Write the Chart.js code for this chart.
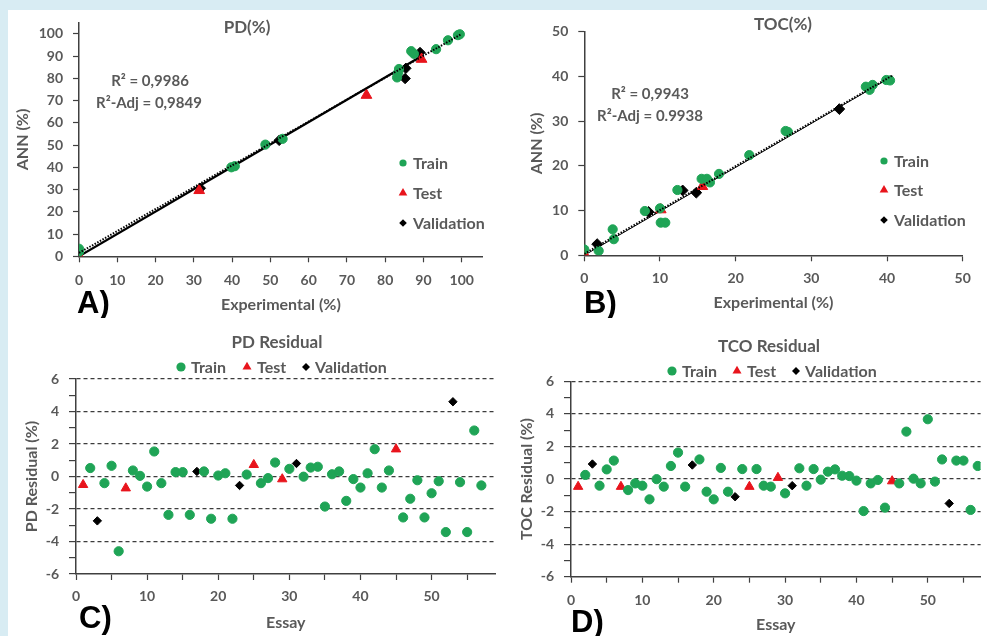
<!DOCTYPE html>
<html>
<head>
<meta charset="utf-8">
<script src="https://cdn.jsdelivr.net/npm/chart.js@4.4.1/dist/chart.umd.min.js"></script>
<style>
  html, body { margin: 0; padding: 0; }
  body { width: 987px; height: 636px; background: #d8ecf3; position: relative; overflow: hidden; }
  #sheet { position: absolute; left: 8px; top: 10px; width: 979px; height: 626px; background: #fff; }
  canvas { position: absolute; }
</style>
</head>
<body>
<div id="sheet"></div>
<canvas id="pdChart"></canvas>
<canvas id="tocChart"></canvas>
<canvas id="pdResChart"></canvas>
<canvas id="tocResChart"></canvas>
<script>
// ---- PD(%): experimental vs ANN ----
const pdTrainExp = [0, 0, 39.8, 40.7, 48.7, 53.2, 83.1, 83.4, 83.6, 86.8, 87.5, 93.3, 96.4, 99.0, 99.5];
const pdTrainAnn = [3.4, 2.0, 40.0, 40.5, 50.2, 52.8, 80.4, 82.6, 84.2, 92.2, 91.0, 93.1, 97.1, 99.4, 99.8];
const pdTestExp = [0, 31.4, 75.1, 89.5];
const pdTestAnn = [0.3, 29.6, 72.4, 88.6];
const pdValExp = [31.7, 52.3, 85.4, 85.2, 89.1];
const pdValAnn = [30.6, 52.1, 84.5, 79.9, 91.6];
const pdFitExp = [0, 89];
const pdFitAnn = [0, 89.5];
const pdTrendExp = [0, 100];
const pdTrendAnn = [1.5, 100];

// ---- TOC(%): experimental vs ANN ----
const tocTrainExp = [0, 1.9, 3.75, 3.9, 8.0, 10.0, 10.1, 10.7, 12.3, 15.5, 16.2, 16.6, 17.8, 21.8, 26.6, 26.9, 37.2, 37.7, 38.1, 39.9, 40.4];
const tocTrainAnn = [1.3, 1.0, 5.8, 3.6, 9.9, 10.5, 7.3, 7.3, 14.6, 17.1, 17.1, 16.3, 18.2, 22.4, 27.8, 27.6, 37.7, 37.0, 38.1, 39.2, 39.1];
const tocTestExp = [0, 10.1, 15.6];
const tocTestAnn = [0.3, 10.2, 15.4];
const tocValExp = [1.7, 8.5, 13.0, 14.8, 33.7];
const tocValAnn = [2.5, 9.7, 14.5, 14.0, 32.7];
const tocFitExp = [0, 40.8];
const tocFitAnn = [0, 40.1];
const tocTrendExp = [0, 40.8];
const tocTrendAnn = [0.3, 40.3];

// ---- residuals per essay ----
const trainEssay = [2, 4, 5, 6, 8, 9, 10, 11, 12, 13, 14, 15, 16, 18, 19, 20, 21, 22, 24, 26, 27, 28, 30,
  32, 33, 34, 35, 36, 37, 38, 39, 40, 41, 42, 43, 44, 46, 47, 48, 49, 50, 51, 52, 54, 55, 56, 57];
const testEssay = [1, 7, 25, 29, 45];
const validationEssay = [3, 17, 23, 31, 53];

const pdResTrain = [0.52, -0.41, 0.66, -4.6, 0.37, 0.04, -0.62, 1.54, -0.41, -2.36, 0.27, 0.27, -2.36, 0.31, -2.6,
  0.06, 0.2, -2.6, 0.12, -0.41, -0.1, 0.86, 0.47, -0.01, 0.55, 0.6, -1.85, 0.14, 0.31, -1.5, -0.16, -0.68, 0.2,
  1.68, -0.68, 0.37, -2.52, -1.37, -0.23, -2.52, -1.03, -0.29, -3.42, -0.35, -3.42, 2.83, -0.55];
const pdResTest = [-0.51, -0.72, 0.72, -0.16, 1.68];
const pdResValidation = [-2.73, 0.31, -0.55, 0.8, 4.6];

const tocResTrain = [0.25, -0.41, 0.59, 1.13, -0.68, -0.27, -0.41, -1.25, -0.01, -0.47, 0.8, 1.62, -0.47, 1.2,
  -0.78, -1.25, 0.68, -0.78, 0.61, 0.61, -0.41, -0.47, -0.88, 0.66, -0.41, 0.61, -0.04, 0.45, 0.59, 0.2, 0.18,
  -0.1, -1.97, -0.27, -0.06, -1.76, -0.27, 2.91, 0.02, -0.27, 3.67, -0.16, 1.2, 1.13, 1.13, -1.9, 0.8];
const tocResTest = [-0.47, -0.47, -0.47, 0.08, -0.13];
const tocResValidation = [0.92, 0.86, -1.09, -0.41, -1.5];

const GREEN = '#1fa456';
const RED = '#e8141c';
const BLACK = '#000000';
const TEXT = '#595959';
const AXIS = '#404040';
const FONT = 'Lato, "Open Sans", sans-serif';
const TITLE_SIZE = 16;   // axis titles
const TITLE_LH = TITLE_SIZE * 1.2;

Chart.defaults.font.family = FONT;
Chart.defaults.font.weight = 'bold';
Chart.defaults.color = TEXT;

const pts = (xs, ys) => xs.map((x, i) => ({ x, y: ys[i] }));

function markerPath(ctx, style, x, y, r) {
  ctx.beginPath();
  if (style === 'circle') {
    ctx.arc(x, y, r, 0, Math.PI * 2);
  } else if (style === 'triangle') {
    ctx.moveTo(x, y - r);
    ctx.lineTo(x + r * 0.866, y + r * 0.5);
    ctx.lineTo(x - r * 0.866, y + r * 0.5);
    ctx.closePath();
  } else {
    ctx.moveTo(x, y - r);
    ctx.lineTo(x + r, y);
    ctx.lineTo(x, y + r);
    ctx.lineTo(x - r, y);
    ctx.closePath();
  }
}

// titles, R² notes, legends and panel letters, placed in page coordinates
const overlay = {
  id: 'overlay',
  afterDraw(chart, args, o) {
    const ctx = chart.ctx;
    const [ox, oy] = o.origin;
    ctx.save();
    ctx.textBaseline = 'middle';
    ctx.fillStyle = TEXT;
    ctx.font = 'bold 17px ' + FONT;
    ctx.textAlign = 'center';
    ctx.fillText(o.title.text, o.title.x - ox, o.title.y - oy);
    ctx.font = 'bold 15px ' + FONT;
    (o.notes || []).forEach(n => ctx.fillText(n.text, n.x - ox, n.y - oy));
    ctx.textAlign = 'left';
    ctx.font = 'bold 16px ' + FONT;
    o.legend.forEach(item => {
      ctx.fillStyle = item.color;
      markerPath(ctx, item.style, item.mx - ox, item.y - oy, item.r);
      ctx.fill();
      ctx.fillStyle = TEXT;
      ctx.fillText(item.text, item.tx - ox, item.y - oy + 1);
    });
    ctx.fillStyle = '#000';
    ctx.font = 'bold 31px "Liberation Sans Narrow", "Liberation Sans", sans-serif';
    ctx.fillText(o.letter.text, o.letter.x - ox, o.letter.y - oy);
    ctx.restore();
  }
};

function legendColumn(mx, tx, ys) {
  return [
    { text: 'Train', style: 'circle', color: GREEN, r: 3.6, mx, tx, y: ys[0] },
    { text: 'Test', style: 'triangle', color: RED, r: 5, mx, tx, y: ys[1] },
    { text: 'Validation', style: 'diamond', color: BLACK, r: 3.8, mx, tx, y: ys[2] }
  ];
}

function legendRow(y, xs) {
  return [
    { text: 'Train', style: 'circle', color: GREEN, r: 4.6, mx: xs[0][0], tx: xs[0][1], y },
    { text: 'Test', style: 'triangle', color: RED, r: 5.2, mx: xs[1][0], tx: xs[1][1], y },
    { text: 'Validation', style: 'diamond', color: BLACK, r: 4, mx: xs[2][0], tx: xs[2][1], y }
  ];
}

function pointSets(train, test, val, sizes) {
  return [
    { label: 'Train', data: train, pointStyle: 'circle', pointRadius: sizes[0],
      backgroundColor: GREEN, borderColor: GREEN, order: 1 },
    { label: 'Test', data: test, pointStyle: 'triangle', pointRadius: sizes[1],
      backgroundColor: RED, borderColor: RED, order: 1 },
    { label: 'Validation', data: val, pointStyle: 'rectRot', pointRadius: sizes[2],
      backgroundColor: BLACK, borderColor: BLACK, order: 1 }
  ];
}

function axis(cfg, extra) {
  return Object.assign({
    type: 'linear',
    border: { color: AXIS, width: 1.5 },
    title: { display: true, text: cfg.text, color: TEXT, padding: 0,
      font: { size: TITLE_SIZE, weight: 'bold', lineHeight: 1.2 } }
  }, extra);
}

function makePanel(id, p) {
  const c = p.canvas, a = p.area;
  const el = document.getElementById(id);
  el.width = c.w;
  el.height = c.h;
  el.style.left = c.x + 'px';
  el.style.top = c.y + 'px';

  const padLeft = p.yTitleX - TITLE_LH / 2 - c.x;
  const yWidth = a.l - c.x - padLeft;
  const xHeight = p.xTitleY + TITLE_LH / 2 - a.b;
  const padding = {
    left: padLeft,
    top: a.t - c.y,
    right: c.x + c.w - a.r,
    bottom: c.y + c.h - a.b - xHeight
  };

  const x = axis({ text: p.x.title }, {
    min: p.x.min, max: p.x.max,
    grid: { color: 'transparent', tickColor: AXIS, tickLength: 6, tickWidth: 1.2 },
    ticks: { stepSize: p.x.step, includeBounds: false, autoSkip: false, maxRotation: 0,
      padding: p.x.pad, font: { size: 14, weight: 'bold' }, color: TEXT,
      callback: p.x.label || (v => v) },
    afterFit: s => { s.height = xHeight; s.paddingLeft = 0; s.paddingRight = 0; }
  });
  const y = axis({ text: p.y.title }, {
    min: p.y.min, max: p.y.max,
    grid: p.y.grid || { color: 'transparent', tickColor: AXIS, tickLength: 6, tickWidth: 1.2 },
    border: { color: AXIS, width: 1.5, dash: p.y.dash || [] },
    ticks: { stepSize: p.y.step, includeBounds: false, autoSkip: false,
      padding: 10, font: { size: 14, weight: 'bold' }, color: TEXT,
      callback: p.y.label || (v => v) },
    afterFit: s => { s.width = yWidth; s.paddingTop = 0; s.paddingBottom = 0; }
  });

  return new Chart(el, {
    type: 'scatter',
    data: { datasets: p.datasets },
    plugins: [overlay],
    options: {
      responsive: false,
      animation: false,
      layout: { padding },
      scales: { x, y },
      plugins: {
        legend: { display: false },
        tooltip: { enabled: false },
        overlay: Object.assign({ origin: [c.x, c.y] }, p.overlay)
      }
    }
  });
}

function fitLines(fitX, fitY, trendX, trendY, fitWidth) {
  return [
    { data: pts(fitX, fitY), showLine: true, pointRadius: 0, borderColor: BLACK,
      borderWidth: fitWidth, order: 2 },
    { data: pts(trendX, trendY), showLine: true, pointRadius: 0, borderColor: BLACK,
      borderWidth: 2, borderDash: [1.5, 1.5], order: 0 }
  ];
}

// residual y axis: minor ticks every unit, dashed grid every two
const residualGrid = {
  color: c => (c.tick && c.tick.value % 2 === 0 && c.tick.value > -6) ? '#3c3c3c' : 'transparent',
  lineWidth: 1.2,
  tickColor: AXIS, tickLength: 7, tickWidth: 1.2
};
const evenLabel = v => (v % 2 === 0 ? v : '');
const tenLabel = v => (v % 10 === 0 ? v : '');

makePanel('pdChart', {
  canvas: { x: 8, y: 10, w: 482, h: 308 },
  area: { l: 79, t: 22.7, r: 483, b: 256.3 },
  yTitleX: 23, xTitleY: 305,
  x: { title: 'Experimental (%)', min: 0, max: 105.5, step: 10, pad: 10 },
  y: { title: 'ANN (%)', min: 0, max: 105, step: 10 },
  datasets: [
    ...fitLines(pdFitExp, pdFitAnn, pdTrendExp, pdTrendAnn, 2.2),
    ...pointSets(pts(pdTrainExp, pdTrainAnn), pts(pdTestExp, pdTestAnn), pts(pdValExp, pdValAnn), [4.6, 6.2, 5.2])
  ],
  overlay: {
    title: { text: 'PD(%)', x: 247, y: 28 },
    notes: [
      { text: 'R² = 0,9986', x: 150, y: 81 },
      { text: 'R²-Adj = 0,9849', x: 149, y: 103 }
    ],
    legend: legendColumn(403, 413, [163, 193, 223]),
    letter: { text: 'A)', x: 77, y: 304 }
  }
});

makePanel('tocChart', {
  canvas: { x: 490, y: 10, w: 497, h: 308 },
  area: { l: 584.3, t: 31.7, r: 962.7, b: 255.3 },
  yTitleX: 537, xTitleY: 303,
  x: { title: 'Experimental (%)', min: 0, max: 50, step: 10, pad: 9 },
  y: { title: 'ANN (%)', min: 0, max: 50, step: 10 },
  datasets: [
    ...fitLines(tocFitExp, tocFitAnn, tocTrendExp, tocTrendAnn, 1),
    ...pointSets(pts(tocTrainExp, tocTrainAnn), pts(tocTestExp, tocTestAnn), pts(tocValExp, tocValAnn), [4.6, 6.2, 5.4])
  ],
  overlay: {
    title: { text: 'TOC(%)', x: 783, y: 25 },
    notes: [
      { text: 'R² = 0,9943', x: 650, y: 94 },
      { text: 'R²-Adj = 0.9938', x: 650, y: 116 }
    ],
    legend: legendColumn(884, 894, [161, 190, 220]),
    letter: { text: 'B)', x: 584, y: 304 }
  }
});

makePanel('pdResChart', {
  canvas: { x: 8, y: 318, w: 494, h: 318 },
  area: { l: 76, t: 379, r: 502, b: 574 },
  yTitleX: 32, xTitleY: 623,
  x: { title: 'Essay', min: 0, max: 59, step: 5, pad: 8.5, label: tenLabel },
  y: { title: 'PD Residual (%)', min: -6, max: 6, step: 1, label: evenLabel, grid: residualGrid, dash: [4, 3] },
  datasets: pointSets(pts(trainEssay, pdResTrain), pts(testEssay, pdResTest),
    pts(validationEssay, pdResValidation), [4.6, 5.4, 4.2]),
  overlay: {
    title: { text: 'PD Residual', x: 277, y: 343 },
    legend: legendRow(367, [[181, 191], [247, 257], [306, 315]]),
    letter: { text: 'C)', x: 79, y: 619 }
  }
});

makePanel('tocResChart', {
  canvas: { x: 505, y: 318, w: 482, h: 318 },
  area: { l: 571, t: 381.3, r: 987, b: 576.7 },
  yTitleX: 527, xTitleY: 625,
  x: { title: 'Essay', min: 0, max: 57.4, step: 5, pad: 9, label: tenLabel },
  y: { title: 'TOC Residual (%)', min: -6, max: 6, step: 1, label: evenLabel, grid: residualGrid, dash: [4, 3] },
  datasets: pointSets(pts(trainEssay, tocResTrain), pts(testEssay, tocResTest),
    pts(validationEssay, tocResValidation), [4.6, 5.4, 4.2]),
  overlay: {
    title: { text: 'TCO Residual', x: 769, y: 347 },
    legend: legendRow(371, [[672, 682], [737, 747], [796, 805]]),
    letter: { text: 'D)', x: 571, y: 623 }
  }
});
</script>
</body>
</html>
